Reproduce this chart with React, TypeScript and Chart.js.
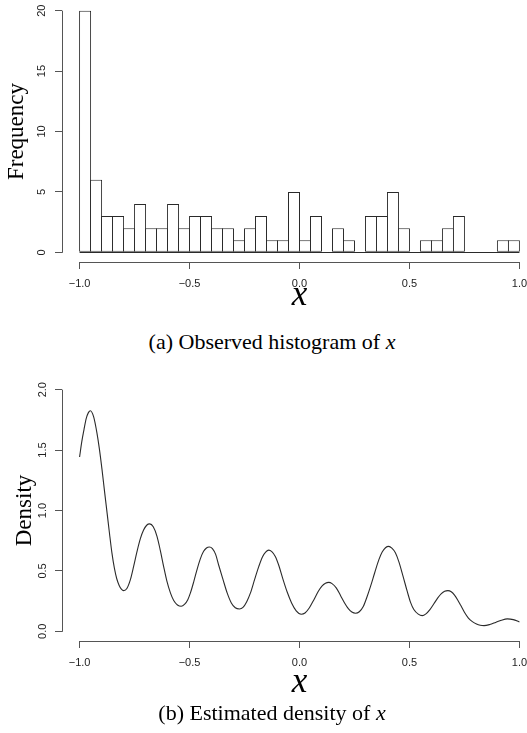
import React, { useEffect, useRef } from "react";
import { Chart, registerables } from "chart.js";

Chart.register(...registerables);

// ---------- data ----------
const binCenters = [
  -0.975, -0.925, -0.875, -0.825, -0.775, -0.725, -0.675, -0.625, -0.575, -0.525,
  -0.475, -0.425, -0.375, -0.325, -0.275, -0.225, -0.175, -0.125, -0.075, -0.025,
  0.025, 0.075, 0.125, 0.175, 0.225, 0.275, 0.325, 0.375, 0.425, 0.475,
  0.525, 0.575, 0.625, 0.675, 0.725, 0.775, 0.825, 0.875, 0.925, 0.975,
];
const binCounts = [
  20, 6, 3, 3, 2, 4, 2, 2, 4, 2,
  3, 3, 2, 2, 1, 2, 3, 1, 1, 5,
  1, 3, 0, 2, 1, 0, 3, 3, 5, 2,
  0, 1, 1, 2, 3, 0, 0, 0, 1, 1,
];

const densX = [
  -1.0, -0.99, -0.98, -0.97, -0.96, -0.951, -0.936, -0.921, -0.91, -0.898,
  -0.887, -0.875, -0.864, -0.853, -0.842, -0.831, -0.82, -0.81, -0.8, -0.785,
  -0.769, -0.754, -0.739, -0.724, -0.709, -0.695, -0.681, -0.665, -0.648, -0.633,
  -0.618, -0.603, -0.587, -0.572, -0.555, -0.538, -0.522, -0.508, -0.496, -0.481,
  -0.466, -0.451, -0.436, -0.423, -0.41, -0.396, -0.381, -0.367, -0.348, -0.329,
  -0.31, -0.292, -0.273, -0.257, -0.24, -0.223, -0.204, -0.185, -0.168, -0.154,
  -0.14, -0.126, -0.11, -0.094, -0.075, -0.056, -0.036, -0.015, 0.008, 0.025,
  0.045, 0.065, 0.085, 0.102, 0.118, 0.133, 0.148, 0.167, 0.187, 0.205,
  0.222, 0.238, 0.255, 0.272, 0.29, 0.306, 0.323, 0.342, 0.361, 0.376,
  0.391, 0.406, 0.42, 0.436, 0.452, 0.471, 0.49, 0.505, 0.52, 0.54,
  0.558, 0.575, 0.593, 0.611, 0.628, 0.645, 0.66, 0.675, 0.69, 0.705,
  0.72, 0.733, 0.75, 0.768, 0.786, 0.805, 0.822, 0.839, 0.865, 0.892,
  0.918, 0.945, 0.972, 1.0,
];
const densY = [
  1.443, 1.57, 1.67, 1.76, 1.81, 1.826, 1.775, 1.641, 1.51, 1.338,
  1.165, 0.98, 0.81, 0.649, 0.525, 0.435, 0.38, 0.35, 0.337, 0.355,
  0.428, 0.54, 0.66, 0.765, 0.838, 0.878, 0.889, 0.865, 0.786, 0.67,
  0.538, 0.415, 0.318, 0.255, 0.218, 0.207, 0.225, 0.262, 0.318, 0.41,
  0.511, 0.6, 0.662, 0.69, 0.698, 0.685, 0.635, 0.545, 0.43, 0.318,
  0.235, 0.195, 0.185, 0.198, 0.245, 0.318, 0.43, 0.538, 0.618, 0.656,
  0.672, 0.66, 0.62, 0.545, 0.43, 0.325, 0.235, 0.17, 0.142, 0.152,
  0.195, 0.26, 0.33, 0.375, 0.398, 0.405, 0.395, 0.36, 0.295, 0.235,
  0.188, 0.16, 0.15, 0.162, 0.205, 0.28, 0.372, 0.485, 0.593, 0.656,
  0.692, 0.703, 0.688, 0.65, 0.575, 0.455, 0.33, 0.24, 0.18, 0.142,
  0.13, 0.145, 0.18, 0.228, 0.275, 0.312, 0.332, 0.337, 0.328, 0.3,
  0.258, 0.215, 0.158, 0.11, 0.08, 0.06, 0.05, 0.047, 0.056, 0.074,
  0.092, 0.103, 0.097, 0.078,
];

const xTicks = [-1, -0.5, 0, 0.5, 1];
const histYTicks = [0, 5, 10, 15, 20];
const densYTicks = [0, 0.5, 1, 1.5, 2];

const histYLabel = "Frequency";
const densYLabel = "Density";
const xLabel = "x";
const captionA = "(a) Observed histogram of ";
const captionB = "(b) Estimated density of ";

// ---------- styles ----------
const AXIS_COLOR = "#555";
const MARK_COLOR = "#2a2a2a";
const TEXT_COLOR = "#222";
const SANS = "'Liberation Sans', Arial, Helvetica, sans-serif";
const SERIF = "'Liberation Serif', 'Times New Roman', Times, serif";
const CANVAS_W = 537;

const fmtX = (v: number) => v.toFixed(1).replace("-", "\u2212");

function zeroPad(s: any) {
  s.paddingTop = 0;
  s.paddingBottom = 0;
  s.paddingLeft = 0;
  s.paddingRight = 0;
}

function axisPlugin(yTicks: number[], baseline: boolean) {
  return {
    id: "rAxes",
    afterDraw(chart: any) {
      const { ctx } = chart;
      const xs = chart.scales.x;
      const ys = chart.scales.y;
      const al = (p: number) => Math.round(p - 0.5) + 0.5;
      ctx.save();
      ctx.lineWidth = 1;
      ctx.strokeStyle = AXIS_COLOR;
      ctx.beginPath();
      const xa = al(xs.top);
      ctx.moveTo(xs.getPixelForValue(xTicks[0]), xa);
      ctx.lineTo(xs.getPixelForValue(xTicks[xTicks.length - 1]) + 0.5, xa);
      const ya = al(ys.right);
      ctx.moveTo(ya, ys.getPixelForValue(yTicks[0]) + 0.5);
      ctx.lineTo(ya, ys.getPixelForValue(yTicks[yTicks.length - 1]));
      ctx.stroke();
      if (baseline) {
        ctx.strokeStyle = MARK_COLOR;
        ctx.beginPath();
        const b = al(ys.getPixelForValue(0));
        ctx.moveTo(xs.getPixelForValue(binCenters[0] - 0.025), b);
        ctx.lineTo(xs.getPixelForValue(binCenters[binCenters.length - 1] + 0.025), b);
        ctx.stroke();
      }
      ctx.restore();
    },
  };
}

function baseScales(
  yTicks: number[],
  yMin: number,
  yMax: number,
  yFmt: (v: number) => string,
  yTitle: string,
  yTitlePad: number,
  yTickPad: number,
  xAxisH: number
) {
  return {
    x: {
      type: "linear",
      min: -1.08,
      max: 1.08,
      offset: false,
      afterBuildTicks: (s: any) => {
        s.ticks = xTicks.map((v) => ({ value: v }));
      },
      afterFit: (s: any) => {
        s.height = xAxisH;
        zeroPad(s);
      },
      grid: {
        offset: false,
        drawOnChartArea: false,
        drawTicks: true,
        tickLength: 7,
        color: AXIS_COLOR,
        lineWidth: 1,
      },
      border: { display: false },
      ticks: {
        autoSkip: false,
        maxRotation: 0,
        minRotation: 0,
        padding: 8.5,
        color: TEXT_COLOR,
        font: { family: SANS, size: 11 },
        callback: (v: any) => fmtX(Number(v)),
      },
      title: {
        display: true,
        text: xLabel,
        color: "#000",
        font: { family: SERIF, size: 35, style: "italic" },
        padding: { top: 0, bottom: 3 },
      },
    },
    y: {
      type: "linear",
      min: yMin,
      max: yMax,
      afterBuildTicks: (s: any) => {
        s.ticks = yTicks.map((v) => ({ value: v }));
      },
      afterFit: (s: any) => {
        s.width = 62;
        zeroPad(s);
      },
      grid: {
        drawOnChartArea: false,
        drawTicks: true,
        tickLength: 7,
        color: AXIS_COLOR,
        lineWidth: 1,
      },
      border: { display: false },
      ticks: {
        autoSkip: false,
        minRotation: 90,
        maxRotation: 90,
        crossAlign: "center",
        padding: yTickPad,
        color: TEXT_COLOR,
        font: { family: SANS, size: 11 },
        callback: (v: any) => yFmt(Number(v)),
      },
      title: {
        display: true,
        text: yTitle,
        color: "#000",
        font: { family: SERIF, size: 23 },
        padding: { top: yTitlePad, bottom: 0 },
      },
    },
  };
}

function HistChart() {
  const ref = useRef<HTMLCanvasElement>(null);
  useEffect(() => {
    const chart = new Chart(ref.current as HTMLCanvasElement, {
      type: "bar",
      data: {
        datasets: [
          {
            data: binCenters.map((c, i) => ({ x: c, y: binCounts[i] })),
            backgroundColor: "#ffffff",
            borderColor: MARK_COLOR,
            borderWidth: 1,
            borderSkipped: false,
            barPercentage: 1.091,
            categoryPercentage: 1,
          } as any,
        ],
      },
      options: {
        animation: false,
        responsive: false,
        devicePixelRatio: 1,
        layout: { padding: { top: 1, left: 0, right: 0, bottom: 0 }, autoPadding: false },
        plugins: { legend: { display: false }, tooltip: { enabled: false } },
        scales: baseScales(histYTicks, -0.8, 20.8, (v) => String(v), histYLabel, 3.5, 7.2, 58) as any,
      } as any,
      plugins: [axisPlugin(histYTicks, true)],
    });
    return () => chart.destroy();
  }, []);
  return <canvas ref={ref} width={CANVAS_W} height={320} style={{ width: CANVAS_W, height: 320, display: "block" }} />;
}

function DensChart() {
  const ref = useRef<HTMLCanvasElement>(null);
  useEffect(() => {
    const chart = new Chart(ref.current as HTMLCanvasElement, {
      type: "line",
      data: {
        datasets: [
          {
            data: densX.map((x, i) => ({ x, y: densY[i] })),
            borderColor: MARK_COLOR,
            borderWidth: 1.1,
            pointRadius: 0,
            fill: false,
            cubicInterpolationMode: "monotone",
          } as any,
        ],
      },
      options: {
        animation: false,
        responsive: false,
        devicePixelRatio: 1,
        layout: { padding: { top: 1, left: 0, right: 0, bottom: 0 }, autoPadding: false },
        plugins: { legend: { display: false }, tooltip: { enabled: false } },
        scales: baseScales(densYTicks, -0.08, 2.08, (v) => v.toFixed(1), densYLabel, 11.2, 4, 66) as any,
      } as any,
      plugins: [axisPlugin(densYTicks, false)],
    });
    return () => chart.destroy();
  }, []);
  return <canvas ref={ref} width={CANVAS_W} height={328} style={{ width: CANVAS_W, height: 328, display: "block" }} />;
}

const captionStyle: React.CSSProperties = {
  position: "absolute",
  left: 0,
  width: 544,
  textAlign: "center",
  fontFamily: SERIF,
  fontSize: 22,
  lineHeight: "24px",
  color: "#000",
  whiteSpace: "nowrap",
};

export default function App() {
  return (
    <div
      style={{
        position: "fixed",
        left: 0,
        top: 0,
        width: 527,
        height: 733,
        overflow: "hidden",
        background: "#fff",
      }}
    >
      <div style={{ position: "absolute", left: 0, top: 0 }}>
        <HistChart />
      </div>
      <div style={{ ...captionStyle, top: 330 }}>
        {captionA}
        <i>x</i>
      </div>
      <div style={{ position: "absolute", left: 0, top: 379 }}>
        <DensChart />
      </div>
      <div style={{ ...captionStyle, top: 701 }}>
        {captionB}
        <i>x</i>
      </div>
    </div>
  );
}
